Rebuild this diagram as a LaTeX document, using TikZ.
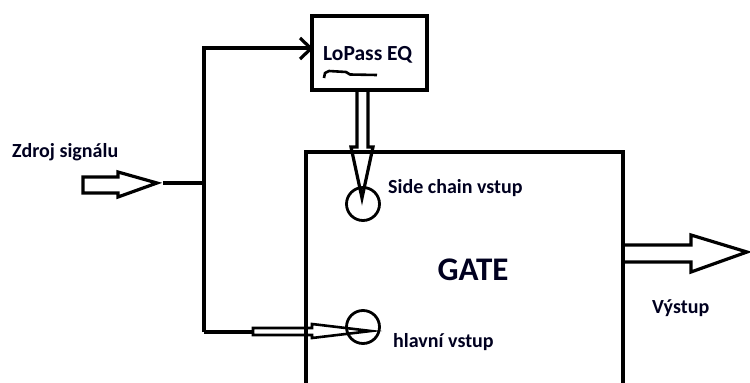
\documentclass[tikz,border=0pt]{standalone}
\usepackage{fontspec}
\setmainfont{Carlito}
\usetikzlibrary{arrows.meta}
\begin{document}
\begin{tikzpicture}[x=1pt,y=-1pt,
  ln/.style={line width=3.2pt, line join=miter},
  lbl/.style={anchor=base west, inner sep=0pt, font=\bfseries\fontsize{20}{24}\selectfont, text=black!88!blue},
  port/.style={circle, draw, line width=2.8pt, minimum size=33pt, inner sep=0pt}]
\useasboundingbox (0,0) rectangle (750,383);
% LoPass box
\node[draw, line width=3.2pt, minimum width=115pt, minimum height=74pt, inner sep=0pt] (lp) at (369.5,53) {};
\node[lbl, font=\bfseries\fontsize{21.5}{24}\selectfont] (lpt) at (323,60) {LoPass EQ};
\draw[line width=2.6pt, line join=round] (324,78) -- (325,73) -- (329,71) -- (346,72) -- (350,74.5) -- (377,75);
% GATE box
\coordinate (gbl) at (306,383);
\coordinate (gtl) at (306,152);
\coordinate (gtr) at (623,152);
\coordinate (gbr) at (623,383);
\draw[ln] (gbl) -- (gtl) -- (gtr) -- (gbr);
\node[inner sep=0pt, font=\bfseries\fontsize{33}{36}\selectfont, text=black!88!blue] (gate) at (473,270) {GATE};
% ports
\node[port] (sc) at (363,204) {};
\node[port] (hv) at (363,327) {};
\node[lbl] (sct) at (388,193) {Side chain vstup};
\node[lbl] (hvt) at (393,347) {hlavní vstup};
% side chain hollow arrow
\draw[ln] (lp.south -| 357,0) -- (357,147) -- (351,147) -- (362,198) -- (373,147) -- (368,147) -- (lp.south -| 368,0);
% input
\node[lbl] (src) at (12,157) {Zdroj signálu};
\draw[ln] (83,177) -- (118,177) -- (118,172) -- (157,183) -- (118,197) -- (118,193) -- (83,193) -- cycle;
\coordinate (in) at (163,183);
\coordinate (j) at (204,183);
\coordinate (jt) at (204,48);
\coordinate (jb) at (204,332);
\draw[ln] (in) -- (j);
\draw[ln] (jb) -- (jt) -- (jt -| lp.west);
\draw[ln] (300,38) -- (311,48.5) -- (300,59);
\draw[ln] (jb) -- (253,332);
\draw[line width=2.6pt] (253,328) -- (312,328) -- (312,324) -- (371,331) -- (312,338) -- (312,335) -- (253,335) -- cycle;
% output
\draw[ln] (gtr |- 0,245) -- (691,245) -- (691,235) -- (747,252) -- (691,272) -- (691,262) -- (gtr |- 0,262);
\node[lbl] (out) at (652,313) {Výstup};
\end{tikzpicture}
\end{document}
